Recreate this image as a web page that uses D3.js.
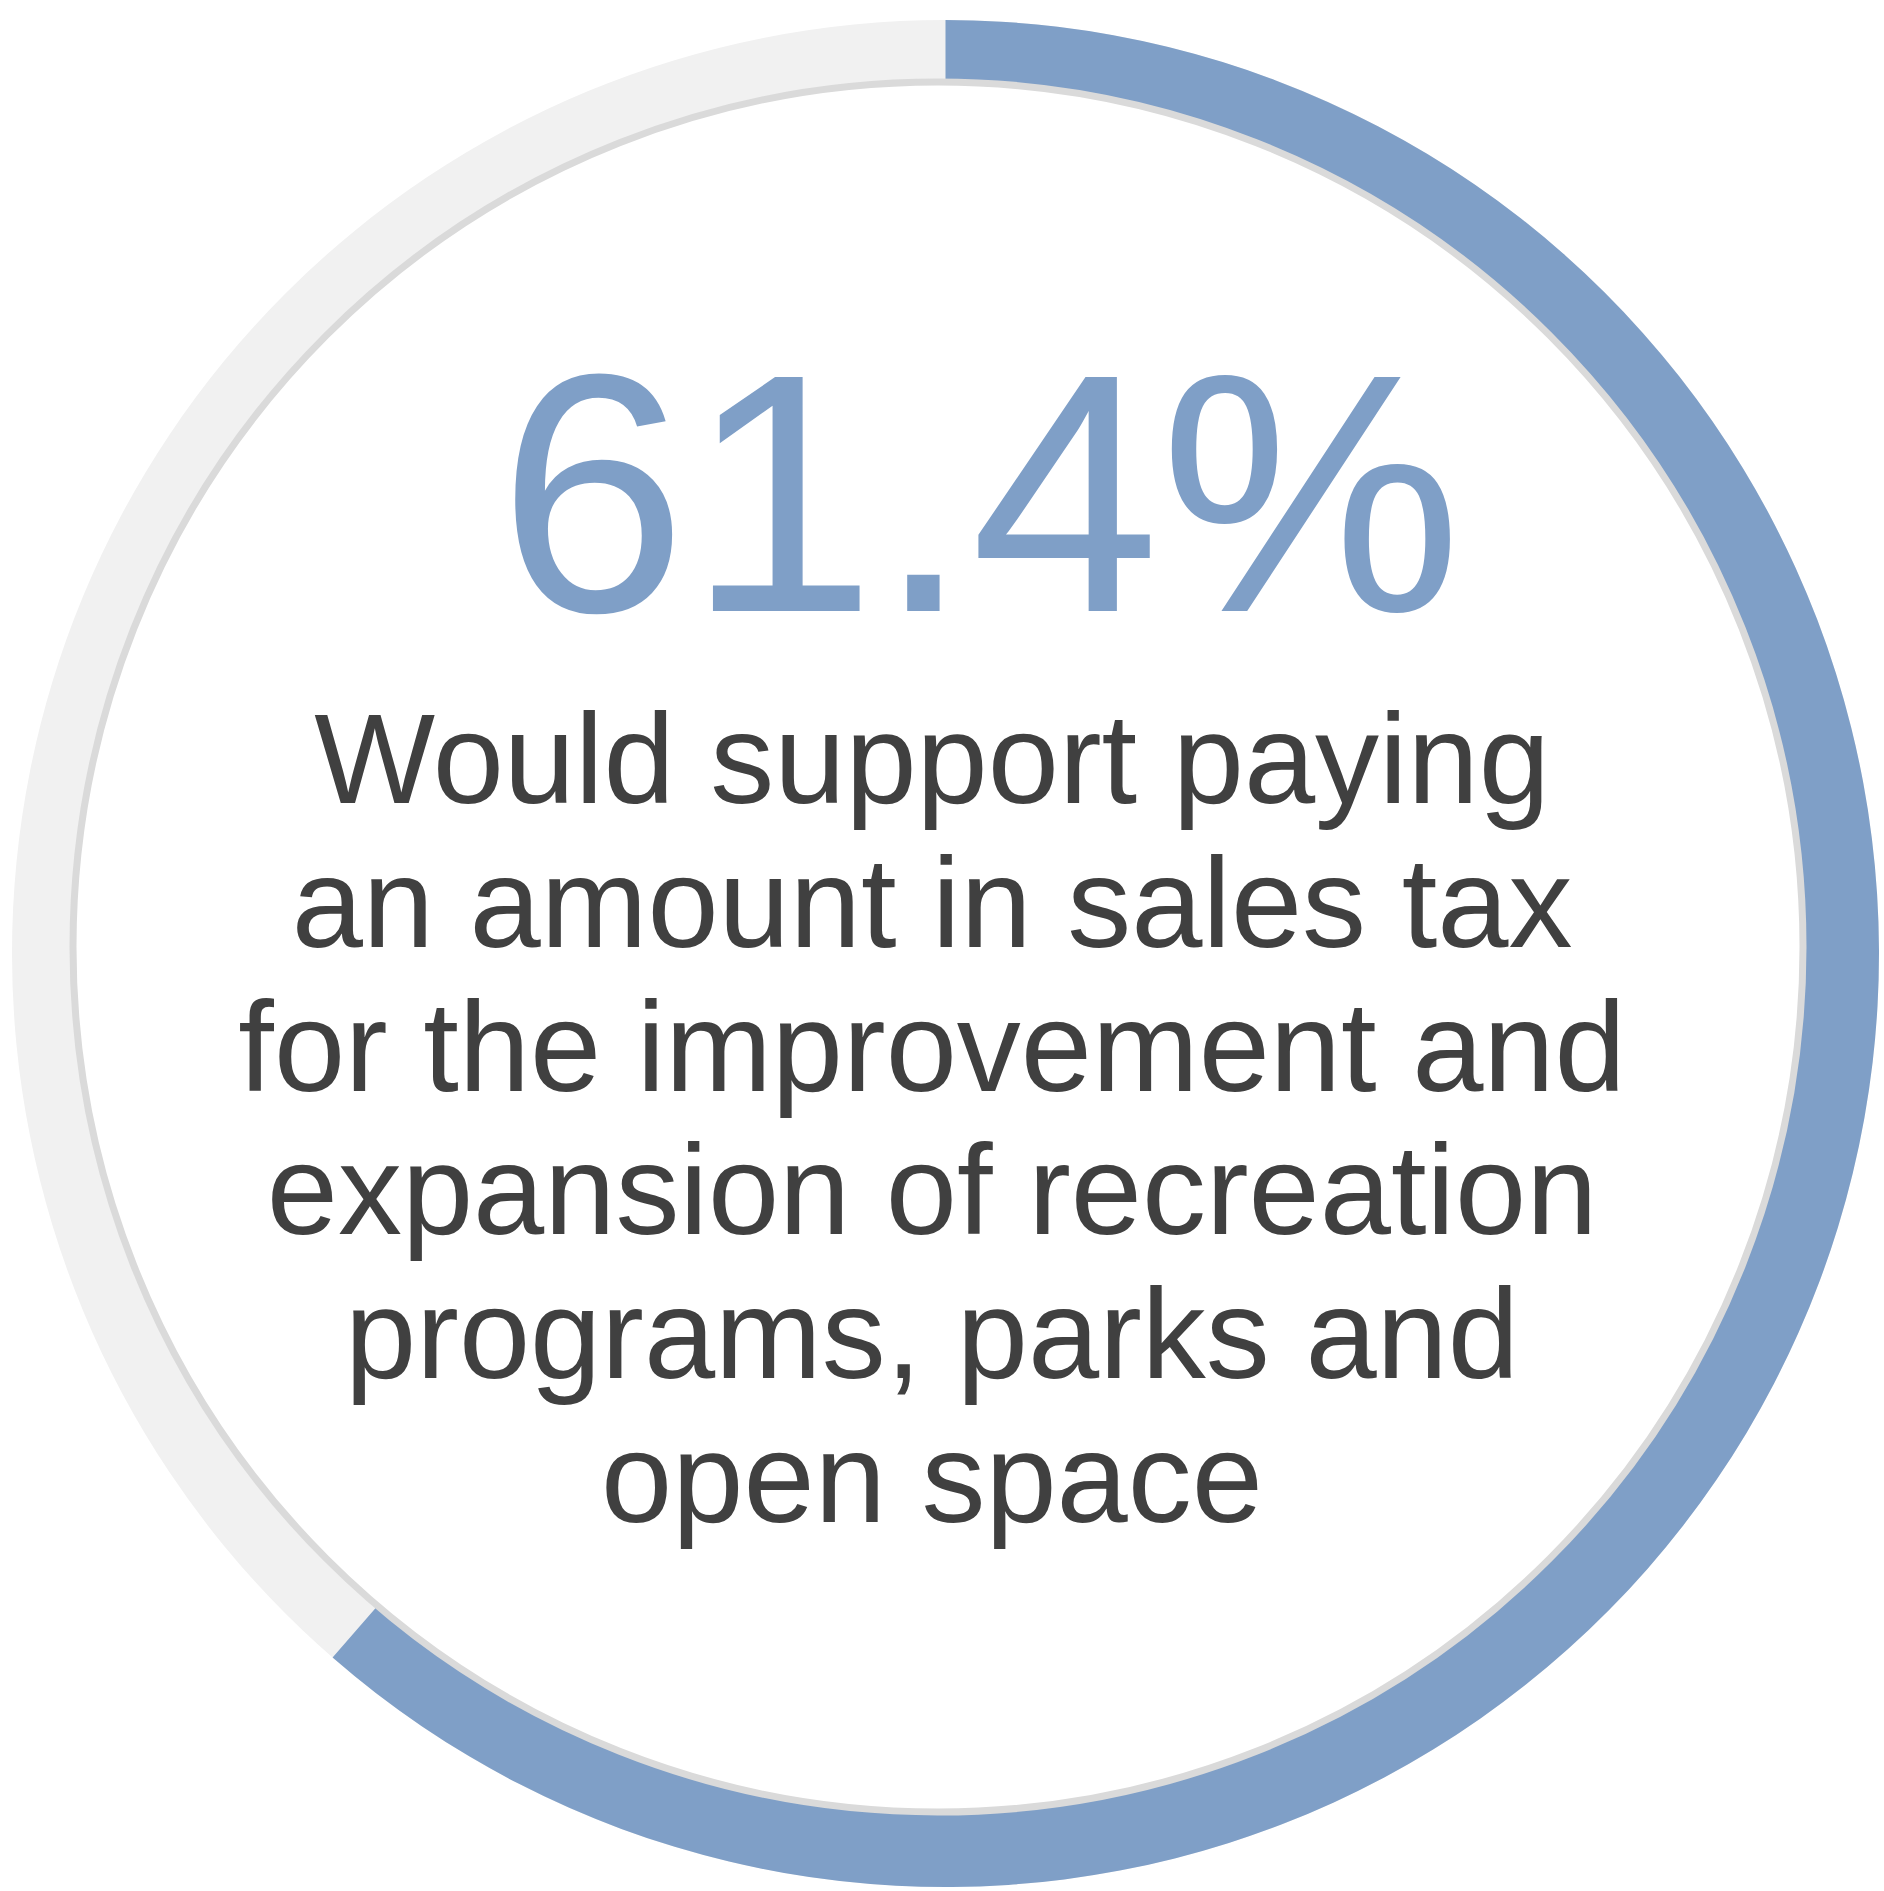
<!DOCTYPE html>
<html>
<head>
<meta charset="utf-8">
<script src="https://cdn.jsdelivr.net/npm/d3@7"></script>
<style>
  html, body { margin: 0; padding: 0; background: #ffffff; }
  svg { display: block; }
</style>
</head>
<body>
<script>
// Share of respondents who would support the sales tax
const shareValue = 61.4;
const shareTotal = 100;

// Caption beneath the figure, one entry per line
const captionLines = [
  "Would support paying",
  "an amount in sales tax",
  "for the improvement and",
  "expansion of recreation",
  "programs, parks and",
  "open space"
];

const W = 1884, H = 1891;
const svg = d3.select("body").append("svg")
  .attr("width", W)
  .attr("height", H);

// Ring geometry
const ringCx = 945.5, ringCy = 953.5;
const outerR = 933.5, innerR = 850;

// Gauge ring: background track plus the filled portion
const angle = d3.scaleLinear().domain([0, shareTotal]).range([0, 2 * Math.PI]);
const arc = d3.arc().innerRadius(innerR).outerRadius(outerR);

const ring = svg.append("g").attr("transform", `translate(${ringCx},${ringCy})`);
ring.append("path")
  .attr("d", arc({ startAngle: 0, endAngle: angle(shareTotal) }))
  .attr("fill", "#f1f1f1");
ring.append("path")
  .attr("d", arc({ startAngle: 0, endAngle: angle(shareValue) }))
  .attr("fill", "#7f9fc7");

// White face sitting over the ring, with a thin grey rim
const faceCx = 938, faceCy = 947, faceR = 865;
svg.append("circle")
  .attr("cx", faceCx)
  .attr("cy", faceCy)
  .attr("r", faceR)
  .attr("fill", "#ffffff")
  .attr("stroke", "#dadada")
  .attr("stroke-width", 7);

// Big percentage figure
const fmt = d3.format(".1f");
svg.append("text")
  .attr("x", 980)
  .attr("y", 611)
  .attr("text-anchor", "middle")
  .attr("font-family", "'Liberation Sans', Arial, sans-serif")
  .attr("font-size", 340)
  .attr("fill", "#7f9fc7")
  .text(fmt(shareValue) + "%");

// Caption
const caption = svg.append("text")
  .attr("text-anchor", "middle")
  .attr("font-family", "'Liberation Sans', Arial, sans-serif")
  .attr("font-size", 128)
  .attr("fill", "#404040");

caption.selectAll("tspan")
  .data(captionLines)
  .join("tspan")
  .attr("x", 932)
  .attr("y", (d, i) => 803 + i * 143.8)
  .text(d => d);
</script>
</body>
</html>
